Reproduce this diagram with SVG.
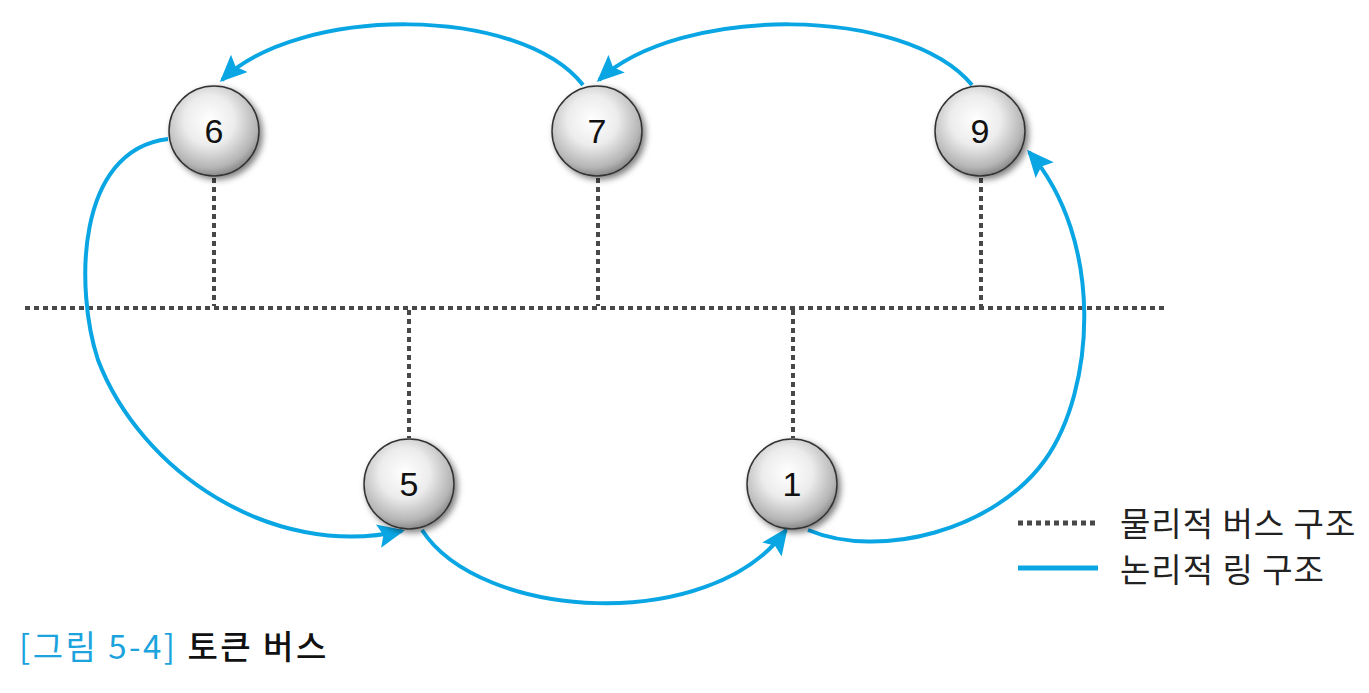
<svg xmlns="http://www.w3.org/2000/svg" width="1369" height="693" viewBox="0 0 1369 693">
<style>
.bus{stroke:#484848;stroke-width:4;stroke-dasharray:5 4;fill:none}
.ring{stroke:#0aa6e4;stroke-width:4;fill:none}
.ball{fill:url(#g);stroke:#333;stroke-width:1.5;filter:url(#sh)}
.num{font-family:"Liberation Sans",Arial,sans-serif;font-size:34px;fill:#111;text-anchor:middle}
.leg{font-family:"Noto Sans CJK KR",sans-serif;font-size:33px;fill:#222;letter-spacing:1px}
.cap{font-family:"Noto Sans CJK KR",sans-serif;font-size:33px}
</style>
<defs>
<radialGradient id="g" cx="0.45" cy="0.38" r="0.62">
<stop offset="0" stop-color="#ffffff"/>
<stop offset="0.45" stop-color="#ececec"/>
<stop offset="0.85" stop-color="#b5b5b5"/>
<stop offset="1" stop-color="#8a8a8a"/>
</radialGradient>
<filter id="sh" x="-30%" y="-30%" width="160%" height="160%">
<feDropShadow dx="3" dy="3" stdDeviation="3" flood-color="#000" flood-opacity="0.5"/>
</filter>
<marker id="ah" markerUnits="userSpaceOnUse" markerWidth="28" markerHeight="24" refX="24" refY="12" orient="auto">
<path d="M0,0 L27,12 L0,24 L5,12 z" fill="#0aa6e4"/>
</marker>
</defs>
<rect width="1369" height="693" fill="#fff"/>
<g id="bus">
<line class="bus" x1="25" y1="308" x2="1168" y2="308"/>
<line class="bus" x1="214" y1="178" x2="214" y2="306"/>
<line class="bus" x1="598" y1="178" x2="598" y2="306"/>
<line class="bus" x1="981" y1="178" x2="981" y2="306"/>
<line class="bus" x1="409" y1="310" x2="409" y2="438"/>
<line class="bus" x1="793" y1="310" x2="793" y2="438"/>
</g>
<g id="connectors">
<path class="ring" d="M583,85 C520,5 300,5 222,80" marker-end="url(#ah)"/>
<path class="ring" d="M972,85 C905,5 680,5 599,80" marker-end="url(#ah)"/>
<path class="ring" d="M168,139 C75,150 75,290 98,360 C140,470 270,560 402,531" marker-end="url(#ah)"/>
<path class="ring" d="M422,530 C480,620 710,635 786,530" marker-end="url(#ah)"/>
<path class="ring" d="M808,530 C880,560 995,530 1045,460 C1095,390 1105,240 1029,152" marker-end="url(#ah)"/>
</g>
<g id="n6"><circle class="ball" cx="214" cy="131" r="45"/><text class="num" x="214" y="143">6</text></g>
<g id="n7"><circle class="ball" cx="597" cy="131" r="45"/><text class="num" x="597" y="143">7</text></g>
<g id="n9"><circle class="ball" cx="980" cy="131" r="45"/><text class="num" x="980" y="143">9</text></g>
<g id="n5"><circle class="ball" cx="409" cy="484" r="45"/><text class="num" x="409" y="496">5</text></g>
<g id="n1"><circle class="ball" cx="792" cy="484" r="45"/><text class="num" x="792" y="496">1</text></g>
<g id="legend">
<line class="bus" x1="1018" y1="523" x2="1098" y2="523" style="stroke-width:5"/>
<line class="ring" x1="1018" y1="568" x2="1098" y2="568" style="stroke-width:5"/>
<text class="leg" x="1120" y="536">물리적 버스 구조</text>
<text class="leg" x="1120" y="582">논리적 링 구조</text>
</g>
<g id="caption">
<text class="cap" x="19" y="659" letter-spacing="2.5"><tspan fill="#1aa3dd">[그림 5-4]</tspan><tspan fill="#111" font-weight="500"> 토큰 버스</tspan></text>
</g>
</svg>
